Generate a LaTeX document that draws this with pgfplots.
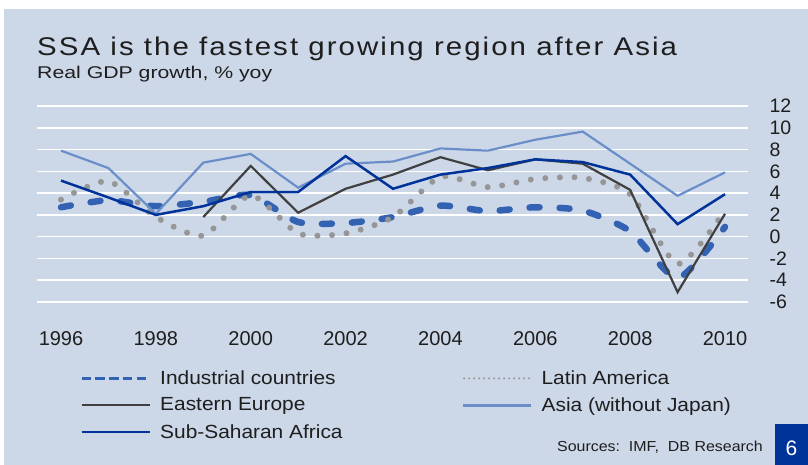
\documentclass[border=0pt]{standalone}
\usepackage{fontspec}
\setmainfont{Liberation Sans}
\newfontfamily\titlefont{Liberation Sans}[FakeStretch=1.15, LetterSpace=8]
\newfontfamily\subfont{Liberation Sans}[FakeStretch=1.25]
\newfontfamily\legfont{Liberation Sans}[FakeStretch=1.1]
\usepackage{pgfplots}
\pgfplotsset{compat=1.18}
\usepackage{pgfplotstable}

\definecolor{bg}{RGB}{204,215,232}
\definecolor{indblue}{RGB}{52,98,178}
\definecolor{lagray}{RGB}{150,150,150}
\definecolor{eegray}{RGB}{64,64,64}
\definecolor{asiablue}{RGB}{106,143,200}
\definecolor{ssablue}{RGB}{0,51,153}
\definecolor{txt}{RGB}{30,30,30}

% real GDP growth, % yoy
\pgfplotstableread{
year  ind    la     ee    asia  ssa
1996  2.7    3.4    nan   7.9   5.15
1997  3.35   5.1    nan   6.3   3.6
1998  2.8    1.8    nan   2.1   2.0
1999  3.2    0.1    1.8   6.8   2.8
2000  3.8    3.8    6.5   7.6   4.1
2001  1.35   0.3    2.2   4.5   4.1
2002  1.25   0.3    4.4   6.7   7.4
2003  1.8    1.8    5.7   6.9   4.4
2004  2.85   5.5    7.3   8.1   5.7
2005  2.35   4.55   6.1   7.9   6.3
2006  2.7    5.3    7.1   8.9   7.1
2007  2.4    5.4    6.7   9.65  6.85
2008  0.5    3.9    4.3   6.7   5.7
2009  -3.8   -2.5   -5.1  3.75  1.15
2010  0.9    2.4    2.1   5.9   3.9
}\growth

\begin{document}
\begin{tikzpicture}
\useasboundingbox (0,0) rectangle (808pt,-465pt);
\fill[white] (0,0) rectangle (808pt,-465pt);
\fill[bg] (4pt,-9pt) rectangle (808pt,-465pt);

\node[anchor=base west, inner sep=0pt, text=txt] at (37pt,-55.5pt)
  {\titlefont\fontsize{25.6}{30}\selectfont SSA is the fastest growing region after Asia};
\node[anchor=base west, inner sep=0pt, text=txt] at (37pt,-79pt)
  {\subfont\fontsize{17}{20}\selectfont Real GDP growth, \% yoy};

\begin{axis}[
  at={(37pt,-302pt)}, anchor=south west,
  scale only axis, width=711pt, height=196pt,
  xmin=1995.494, xmax=2010.485, ymin=-6, ymax=12,
  clip=false,
  axis line style={draw=none},
  major tick length=0pt,
  xtick={1996,1998,...,2010},
  xticklabels={1996,1998,2000,2002,2004,2006,2008,2010},
  ytick={-6,-4,...,12},
  yticklabels={-6,-4,-2,0,2,4,6,8,10,12},
  yticklabel pos=right,
  ymajorgrids,
  major grid style={white, line width=1.6pt},
  extra y ticks={0}, extra y tick labels={},
  extra y tick style={grid style={white, line width=3.5pt}},
  xticklabel style={font=\fontsize{20}{24}\selectfont, text=txt, yshift=-26pt},
  yticklabel style={font=\fontsize{19.5}{23}\selectfont, text=txt, anchor=west, xshift=18pt},
  legend columns=2,
  legend cell align=left,
  legend style={at={(0.0605,-0.35)}, anchor=north west, draw=none, fill=none,
    inner sep=0pt, row sep=11.5pt, text=txt,
    font=\legfont\fontsize{19}{22}\selectfont,
    nodes={inner sep=0pt},
    /tikz/every odd column/.append style={column sep=9pt},
    /tikz/every even column/.append style={column sep=119pt}},
]
\addplot[indblue, line width=6.5pt, line cap=round, dash pattern=on 10pt off 20pt,
  smooth, tension=0.4,
  legend image code/.code={\draw[indblue, line width=3pt, line cap=butt,
    dash pattern=on 9.5pt off 4.2pt] (0pt,0pt) -- (68pt,0pt);}]
  table[x=year, y=ind] {\growth};
\addlegendentry{Industrial countries}

\addplot[lagray, line width=6pt, line cap=round, dash pattern=on 0pt off 14.6pt,
  smooth, tension=0.4,
  legend image code/.code={\draw[lagray, line width=2.2pt, line cap=round,
    dash pattern=on 0pt off 5pt] (1pt,0pt) -- (68pt,0pt);}]
  table[x=year, y=la] {\growth};
\addlegendentry{Latin America}

\addplot[eegray, line width=2.2pt,
  legend image code/.code={\draw[eegray, line width=2.5pt] (0pt,0pt) -- (68pt,0pt);}]
  table[x=year, y=ee] {\growth};
\addlegendentry{Eastern Europe}

\addplot[asiablue, line width=2.2pt,
  legend image code/.code={\draw[asiablue, line width=3pt] (0pt,0pt) -- (68pt,0pt);}]
  table[x=year, y=asia] {\growth};
\addlegendentry{Asia (without Japan)}

\addplot[ssablue, line width=2.5pt,
  legend image code/.code={\draw[ssablue, line width=2.5pt] (0pt,0pt) -- (68pt,0pt);}]
  table[x=year, y=ssa] {\growth};
\addlegendentry{Sub-Saharan Africa}
\end{axis}

\node[anchor=base east, inner sep=0pt, text=txt] at (763pt,-451.5pt)
  {\legfont\fontsize{14.5}{17}\selectfont Sources:\ \ IMF,\ \ DB Research};
\fill[ssablue] (774.7pt,-424pt) rectangle (808pt,-465pt);
\node[text=white, inner sep=0pt, anchor=base] at (791.5pt,-455pt) {\fontsize{21}{24}\selectfont 6};
\end{tikzpicture}
\end{document}
